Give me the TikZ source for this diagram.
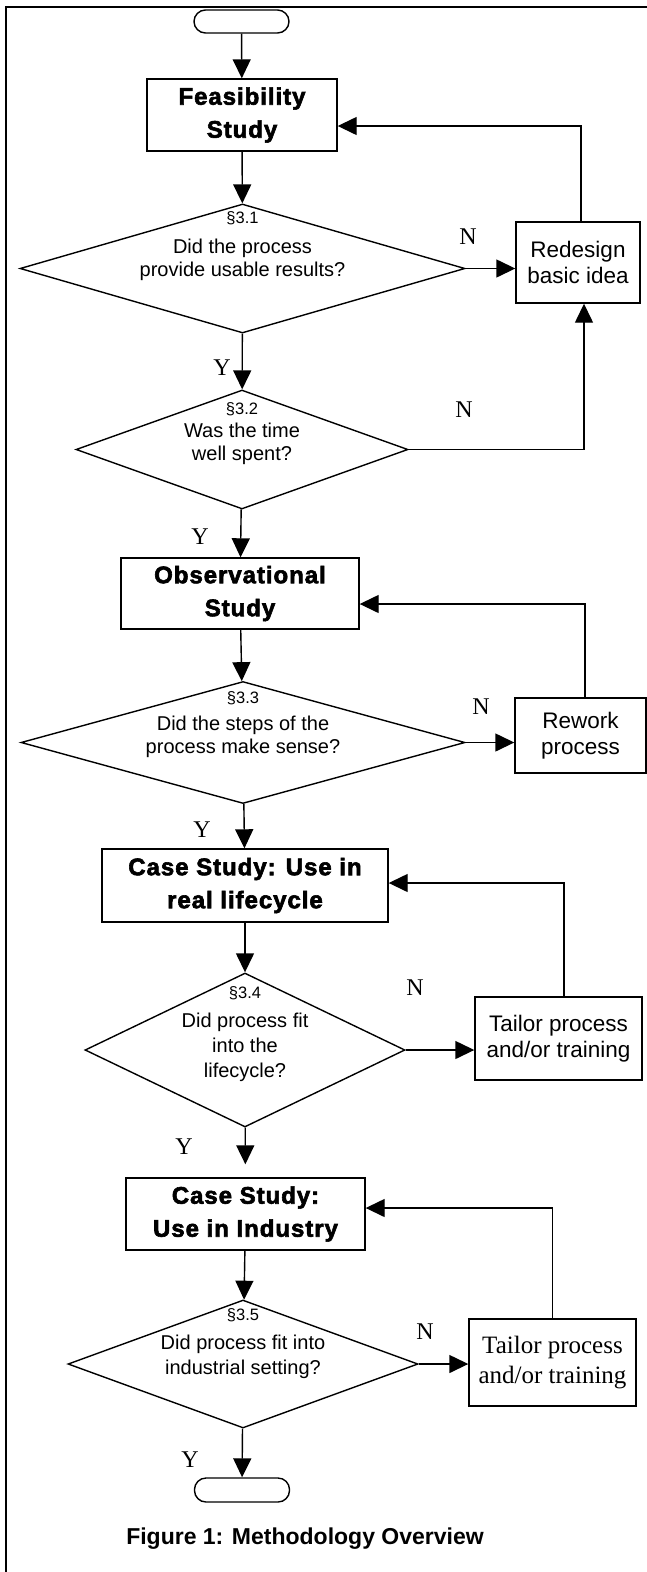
\documentclass[tikz,border=0pt]{standalone}
\usepackage{fontspec}
\setmainfont{Liberation Sans}
\newfontfamily\timesfont{Liberation Serif}
\newfontfamily\heavyfont{Liberation Sans}[UprightFont=*-Bold, UprightFeatures={FakeBold=2.5}, LetterSpace=4]
\usetikzlibrary{shapes.geometric, arrows.meta}

\begin{document}
\begin{tikzpicture}[x=1pt, y=-1pt, line width=1.4pt,
    >={Triangle[length=19pt, width=18pt]},
    stage/.style={draw, rectangle, inner sep=0pt, align=center,
      font=\heavyfont\fontsize{24}{33}\selectfont},
    fixbox/.style={draw, rectangle, inner sep=0pt, align=center,
      font=\fontsize{22.5}{26}\selectfont},
    question/.style={draw, diamond, inner sep=0pt},
    qtext/.style={align=center, inner sep=0pt, font=\fontsize{20}{23}\selectfont},
    terminal/.style={draw, rectangle, rounded corners=11.5pt, inner sep=0pt,
      minimum width=95pt, minimum height=23pt},
    yn/.style={font=\timesfont\fontsize{24}{28}\selectfont, inner sep=0pt}]
  \useasboundingbox (0,0) rectangle (647,1572);

  % Frame
  \draw (6,1572) -- (6,7) -- (647,7);

  % Terminals
  \node[terminal] (start) at (241.5,21.5) {};
  \node[terminal, minimum height=24pt] (stop) at (242,1490) {};

  % Study boxes
  \node[stage, minimum width=190pt, minimum height=72pt] (feas) at (242,115) {Feasibility\\Study};
  \node[stage, minimum width=238pt, minimum height=71pt] (obs) at (240,593.5) {Observational\\Study};
  \node[stage, minimum width=286pt, minimum height=73pt] (case1) at (245,885.5) {Case Study: Use in\\real lifecycle};
  \node[stage, minimum width=239pt, minimum height=72pt] (case2) at (245.5,1214) {Case Study:\\Use in Industry};

  % Decisions
  \node[question, minimum width=445pt, minimum height=129pt] (d1) at (242.5,268.5) {};
  \node[question, minimum width=332pt, minimum height=119pt] (d2) at (242,449.5) {};
  \node[question, minimum width=444pt, minimum height=122pt] (d3) at (243,742.5) {};
  \node[question, minimum width=320pt, minimum height=154pt] (d4) at (245,1050) {};
  \node[question, minimum width=350pt, minimum height=128pt] (d5) at (243,1364) {};

  \node[qtext, yshift=22pt] (d1t) at (d1) {{\fontsize{16.5}{19}\selectfont §3.1}\\[7pt]Did the process\\provide usable results?};
  \node[qtext, yshift=16pt] (d2t) at (d2) {{\fontsize{16.5}{19}\selectfont §3.2}\\Was the time\\well spent?};
  \node[qtext, yshift=17.5pt] (d3t) at (d3) {{\fontsize{16.5}{19}\selectfont §3.3}\\[4pt]Did the steps of the\\process make sense?};
  \node[qtext, yshift=15.5pt, font=\fontsize{20}{25}\selectfont] (d4t) at (d4) {{\fontsize{16.5}{19}\selectfont §3.4}\\[4pt]Did process fit\\into the\\lifecycle?};
  \node[qtext, yshift=20pt, font=\fontsize{20}{25}\selectfont] (d5t) at (d5) {{\fontsize{16.5}{19}\selectfont §3.5}\\[4pt]Did process fit into\\industrial setting?};

  % Fix-up boxes
  \node[fixbox, minimum width=124pt, minimum height=81pt] (redesign) at (578,262.5) {Redesign\\basic idea};
  \node[fixbox, minimum width=131pt, minimum height=75pt] (rework) at (580.5,735.5) {Rework\\process};
  \node[fixbox, minimum width=167pt, minimum height=83pt] (tailor1) at (558.5,1038.5) {Tailor process\\and/or training};
  \node[fixbox, minimum width=167pt, minimum height=87pt, font=\timesfont\fontsize{25}{30}\selectfont] (tailor2) at (552.5,1362.5) {Tailor process\\and/or training};

  % Main flow
  \draw[->] (start) -- (feas);
  \draw[->] (feas) -- (d1);
  \draw[->] (d1) -- (d2);
  \draw[->] (d2) -- (obs);
  \draw[->] (obs) -- (d3);
  \draw[->] (d3) -- (case1);
  \draw[->] (case1) -- (d4);
  \draw[->, shorten >=13pt] (d4) -- (case2);
  \draw[->] (case2) -- (d5);
  \draw[->] (d5) -- (stop);

  % No branches
  \draw[->] (d1.east) -- (d1.east -| redesign.west);
  \draw[->] ([xshift=3pt]redesign.north) |- ([yshift=-11pt]feas.east);
  \draw[->] (d2.east) -| ([xshift=6pt]redesign.south);
  \draw[->] (d3.east) -- (d3.east -| rework.west);
  \draw[->] ([xshift=4.5pt]rework.north) |- ([yshift=-10.5pt]obs.east);
  \draw[->] (d4.east) -- (d4.east -| tailor1.west);
  \draw[->] ([xshift=5.5pt]tailor1.north) |- ([yshift=2.5pt]case1.east);
  \draw[->] (d5.east) -- (d5.east -| tailor2.west);
  \draw[->] (tailor2.north) |- ([yshift=6pt]case2.east);

  % Y / N labels
  \node[yn] (n1) at (468,237) {N};
  \node[yn] (n2) at (464,410) {N};
  \node[yn] (n3) at (481,707) {N};
  \node[yn] (n4) at (415,988) {N};
  \node[yn] (n5) at (425,1332) {N};
  \node[yn] (y1) at (222,368) {Y};
  \node[yn] (y2) at (200,537) {Y};
  \node[yn] (y3) at (202,830) {Y};
  \node[yn] (y4) at (184,1147) {Y};
  \node[yn] (y5) at (190,1460) {Y};

  % Caption
  \node[font=\bfseries\fontsize{23}{27}\selectfont] (caption) at (305,1539) {Figure 1: Methodology Overview};
\end{tikzpicture}
\end{document}
